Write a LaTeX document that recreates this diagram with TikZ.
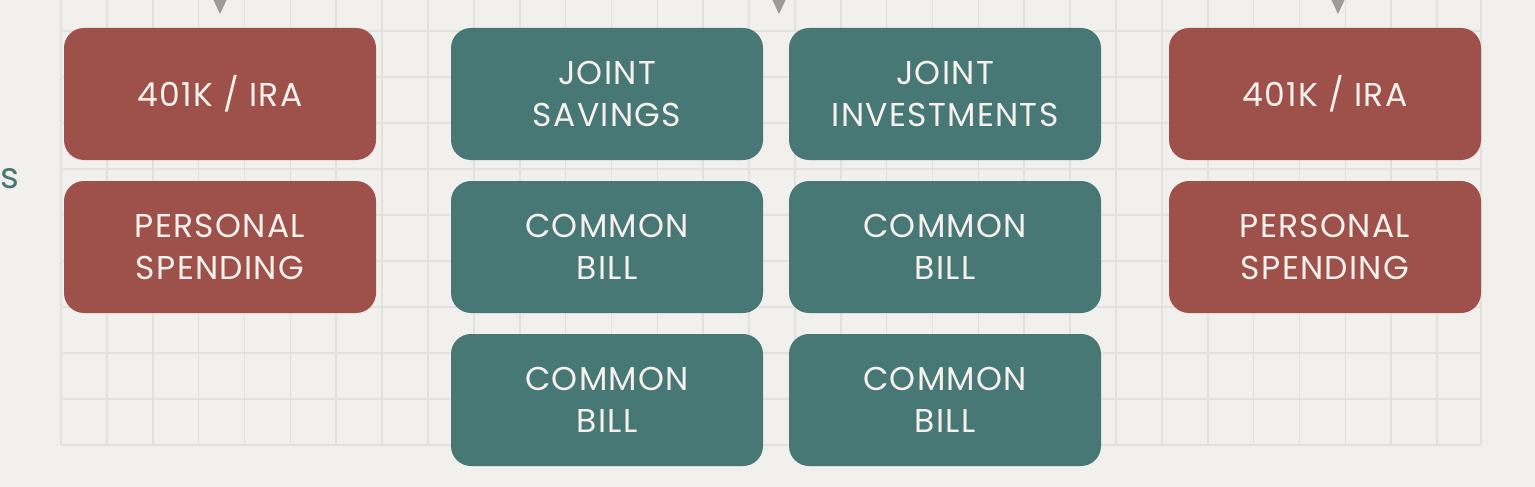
\documentclass[tikz,border=0pt]{standalone}
\usepackage{fontspec}
\setmainfont{Poppins}[LetterSpace=4]
\definecolor{bg}{HTML}{F2F0EC}
\definecolor{gridc}{HTML}{E3E1DC}
\definecolor{redb}{HTML}{9E514B}
\definecolor{tealb}{HTML}{487876}
\definecolor{txt}{HTML}{F6F1EC}
\definecolor{tri}{HTML}{9C9A9A}
\tikzset{
  box/.style={rectangle, rounded corners=20pt, minimum width=312pt, minimum height=132pt,
    inner sep=0pt, text=txt, align=center, font=\fontsize{33}{42}\selectfont},
  redbox/.style={box, fill=redb},
  tealbox/.style={box, fill=tealb},
}
\begin{document}
\begin{tikzpicture}[x=1pt,y=-1pt]
\useasboundingbox (0,0) rectangle (1535,487);
\fill[bg] (0,0) rectangle (1535,487);
% grid
\foreach \k in {0,...,30} {
  \draw[gridc, line width=1.6pt] ({61+45.87*\k},0) -- ({61+45.87*\k},445);
}
\draw[gridc, line width=1.6pt] (1481,0) -- (1481,445);
\foreach \k in {0,...,9} {
  \draw[gridc, line width=1.6pt] (61,{445-46*\k}) -- (1481,{445-46*\k});
}
% pointers
\foreach \x in {220,779,1338} {
  \fill[tri] (\x-7,-1) -- (\x+7,-1) -- (\x,14) -- cycle;
}
% cut label
\node[text=tealb, font=\fontsize{36}{40}\selectfont, anchor=base west, inner sep=0pt] (lbl) at (0.5,188) {s};
% boxes
\node[redbox] (l1) at (220,94) {401K / IRA};
\node[redbox] (l2) at (220,247) {PERSONAL\\SPENDING};
\node[tealbox] (j1) at (607,94) {JOINT\\SAVINGS};
\node[tealbox] (j2) at (945,94) {JOINT\\INVESTMENTS};
\node[tealbox] (c11) at (607,247) {COMMON\\BILL};
\node[tealbox] (c21) at (945,247) {COMMON\\BILL};
\node[tealbox] (c12) at (607,400) {COMMON\\BILL};
\node[tealbox] (c22) at (945,400) {COMMON\\BILL};
\node[redbox] (r1) at (1325,94) {401K / IRA};
\node[redbox] (r2) at (1325,247) {PERSONAL\\SPENDING};
\end{tikzpicture}
\end{document}
